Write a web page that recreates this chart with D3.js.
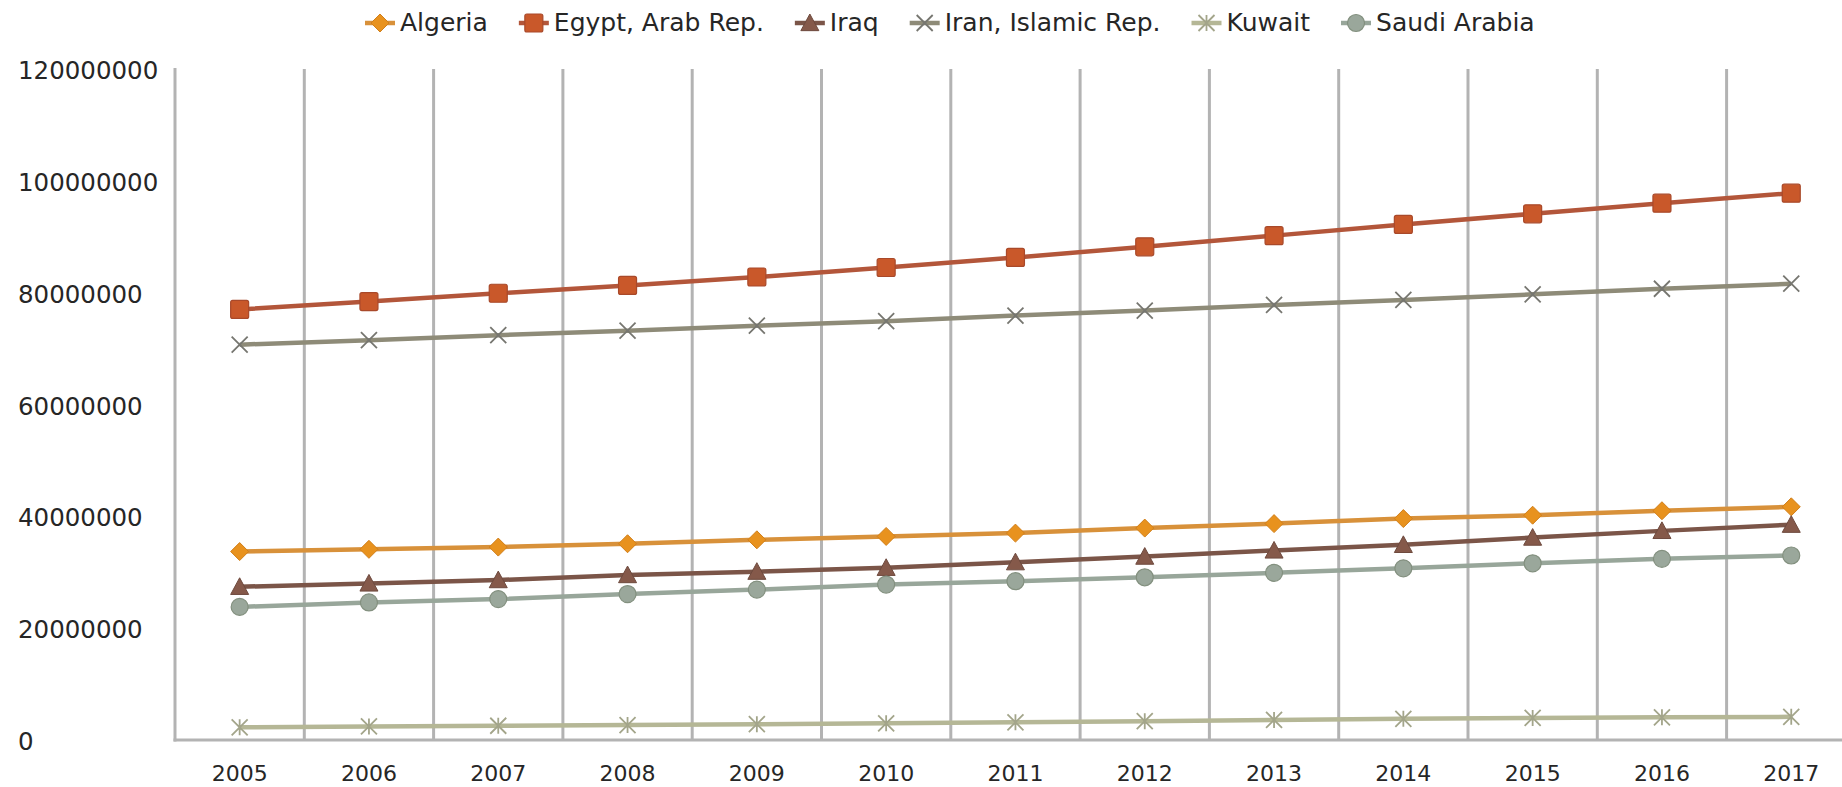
<!DOCTYPE html>
<html>
<head>
<meta charset="utf-8">
<script src="https://cdn.jsdelivr.net/npm/d3@7"></script>
<style>
  html, body { margin: 0; padding: 0; background: #fff; overflow: hidden; }
  svg { display: block; }
  text { font-family: "DejaVu Sans", Verdana, sans-serif; fill: #262626; }
</style>
</head>
<body>
<svg id="chart" width="1842" height="787"></svg>
<script>
const years = ["2005","2006","2007","2008","2009","2010","2011","2012","2013","2014","2015","2016","2017"];
const yTicks = [0, 20000000, 40000000, 60000000, 80000000, 100000000, 120000000];

const algeria = [33.7, 34.1, 34.5, 35.1, 35.8, 36.4, 37.0, 37.9, 38.7, 39.6, 40.2, 41.0, 41.7];
const egypt   = [77.0, 78.4, 79.9, 81.3, 82.8, 84.5, 86.3, 88.2, 90.2, 92.2, 94.1, 96.0, 97.8];
const iraq    = [27.4, 28.0, 28.6, 29.5, 30.1, 30.8, 31.8, 32.8, 33.9, 34.9, 36.2, 37.4, 38.5];
const iran    = [70.7, 71.5, 72.4, 73.2, 74.1, 74.9, 75.9, 76.8, 77.8, 78.7, 79.7, 80.7, 81.6];
const kuwait  = [2.27, 2.42, 2.55, 2.68, 2.83, 2.99, 3.17, 3.37, 3.59, 3.78, 3.94, 4.05, 4.14];
const saudi   = [23.8, 24.6, 25.2, 26.1, 26.9, 27.8, 28.4, 29.1, 29.9, 30.7, 31.6, 32.4, 33.0];

const seriesNames = ["Algeria", "Egypt, Arab Rep.", "Iraq", "Iran, Islamic Rep.", "Kuwait", "Saudi Arabia"];
const seriesValues = [algeria, egypt, iraq, iran, kuwait, saudi];
const seriesStyle = [
  {line: "#D8913A", fill: "#E8921E", stroke: "#D17F1A", shape: "diamond"},
  {line: "#B3563A", fill: "#C9582A", stroke: "#A9492A", shape: "square"},
  {line: "#7B5548", fill: "#85594A", stroke: "#6E4A3E", shape: "triangle"},
  {line: "#8E8B78", fill: "none",    stroke: "#767670", shape: "x"},
  {line: "#B5B796", fill: "none",    stroke: "#A3A58A", shape: "asterisk"},
  {line: "#98A69A", fill: "#9AA79B", stroke: "#83907F", shape: "circle"}
];

const svg = d3.select("#chart");
const W = 1842, H = 787;
const mLeft = 175, mTop = 69, mBottom = 740, band = 129.3;

const x = d3.scaleBand().domain(years).range([mLeft, mLeft + band * years.length]).paddingInner(0).paddingOuter(0);
const y = d3.scaleLinear().domain([0, 120000000]).range([mBottom, mTop]);

// vertical gridlines at category boundaries
const gridG = svg.append("g");
years.forEach((yr, i) => {
  if (i === 0) return;
  const gx = x(yr);
  gridG.append("line").attr("x1", gx).attr("x2", gx).attr("y1", mTop).attr("y2", mBottom)
    .attr("stroke", "#B3B3B3").attr("stroke-width", 3);
});
// axis lines
svg.append("line").attr("x1", mLeft).attr("x2", mLeft).attr("y1", mTop - 1).attr("y2", mBottom + 1.5)
  .attr("stroke", "#B3B3B3").attr("stroke-width", 3);
svg.append("line").attr("x1", mLeft - 1.5).attr("x2", W).attr("y1", mBottom).attr("y2", mBottom)
  .attr("stroke", "#B3B3B3").attr("stroke-width", 3);

// y labels (left aligned)
svg.append("g").selectAll("text").data(yTicks).join("text")
  .attr("x", 18).attr("y", d => y(d) + 3).attr("dominant-baseline", "middle")
  .attr("font-size", 24.5).attr("text-anchor", "start").text(d => d3.format("d")(d));

// x labels
svg.append("g").selectAll("text").data(years).join("text")
  .attr("x", d => x(d) + x.bandwidth() / 2).attr("y", 775).attr("dominant-baseline", "middle")
  .attr("text-anchor", "middle").attr("font-size", 22).text(d => d);

function drawMarker(g, shape, cx, cy, st, s) {
  s = s || 1;
  if (shape === "diamond") {
    const r = 9 * s;
    g.append("path").attr("d", `M${cx},${cy - r}L${cx + r},${cy}L${cx},${cy + r}L${cx - r},${cy}Z`)
      .attr("fill", st.fill).attr("stroke", st.stroke).attr("stroke-width", 1);
  } else if (shape === "square") {
    const r = 9 * s;
    g.append("rect").attr("x", cx - r).attr("y", cy - r).attr("width", 2 * r).attr("height", 2 * r)
      .attr("rx", 2).attr("fill", st.fill).attr("stroke", st.stroke).attr("stroke-width", 1.2);
  } else if (shape === "triangle") {
    const r = 9 * s;
    g.append("path").attr("d", `M${cx},${cy - r}L${cx + r},${cy + r * 0.85}L${cx - r},${cy + r * 0.85}Z`)
      .attr("fill", st.fill).attr("stroke", st.stroke).attr("stroke-width", 1);
  } else if (shape === "x") {
    const r = 8 * s;
    g.append("path").attr("d", `M${cx - r},${cy - r}L${cx + r},${cy + r}M${cx - r},${cy + r}L${cx + r},${cy - r}`)
      .attr("stroke", st.stroke).attr("stroke-width", 1.8).attr("fill", "none");
  } else if (shape === "asterisk") {
    const r = 8 * s;
    g.append("path").attr("d", `M${cx - r},${cy - r}L${cx + r},${cy + r}M${cx - r},${cy + r}L${cx + r},${cy - r}M${cx},${cy - r}L${cx},${cy + r}`)
      .attr("stroke", st.stroke).attr("stroke-width", 1.8).attr("fill", "none");
  } else if (shape === "circle") {
    g.append("circle").attr("cx", cx).attr("cy", cy).attr("r", 8.5 * s)
      .attr("fill", st.fill).attr("stroke", st.stroke).attr("stroke-width", 1.2);
  }
}

const line = d3.line().x((d, i) => x(years[i]) + x.bandwidth() / 2).y(d => y(d * 1e6));

seriesValues.forEach((vals, si) => {
  const st = seriesStyle[si];
  const g = svg.append("g");
  g.append("path").datum(vals).attr("d", line).attr("fill", "none")
    .attr("stroke", st.line).attr("stroke-width", 4.5).attr("stroke-linejoin", "round");
  vals.forEach((v, i) => {
    drawMarker(g, st.shape, x(years[i]) + x.bandwidth() / 2, y(v * 1e6), st, 1);
  });
});

// legend
const leg = svg.append("g");
let lx = 380;
const ly = 23;
seriesNames.forEach((name, si) => {
  const st = seriesStyle[si];
  leg.append("line").attr("x1", lx - 15).attr("x2", lx + 15).attr("y1", ly).attr("y2", ly)
    .attr("stroke", st.line).attr("stroke-width", 4.5);
  drawMarker(leg, st.shape, lx, ly, st, 1);
  const t = leg.append("text").attr("x", lx + 20).attr("y", ly + 1).attr("dominant-baseline", "middle")
    .attr("font-size", 25).text(name);
  const w = t.node().getComputedTextLength();
  lx = lx + 20 + w + 46;
});
</script>
</body>
</html>
